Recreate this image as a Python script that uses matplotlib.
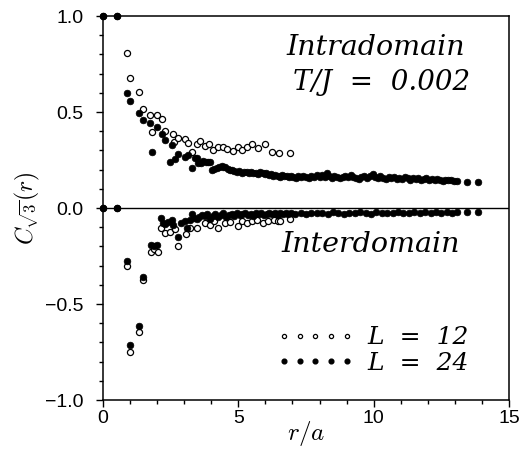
import matplotlib
matplotlib.use("Agg")
import matplotlib.pyplot as plt
from matplotlib.lines import Line2D

plt.rcParams['font.family'] = ['Liberation Sans', 'DejaVu Sans']
plt.rcParams['mathtext.fontset'] = 'cm'

# L = 12, intradomain correlations
r12_intra = [0.0, 0.52, 0.87, 1.01, 1.33, 1.49, 1.75, 1.81, 1.98, 2.18, 2.29, 2.60, 2.61,
             2.78, 3.03, 3.13, 3.27, 3.46, 3.58, 3.77, 3.92, 4.08, 4.26, 4.45, 4.57,
             4.82, 5.00, 5.12, 5.31, 5.52, 5.74, 6.00, 6.23, 6.51, 6.92]
c12_intra = [1.0, 1.0, 0.805, 0.679, 0.606, 0.514, 0.484, 0.396, 0.484, 0.462, 0.403, 0.385, 0.342,
             0.366, 0.361, 0.337, 0.292, 0.332, 0.350, 0.325, 0.333, 0.302, 0.316, 0.318, 0.309,
             0.297, 0.319, 0.302, 0.319, 0.332, 0.311, 0.332, 0.293, 0.288, 0.285]

# L = 12, interdomain correlations
r12_inter = [0.0, 0.52, 0.87, 1.00, 1.33, 1.49, 1.77, 1.90, 2.02, 2.16, 2.29, 2.48, 2.66,
             2.78, 3.05, 3.21, 3.49, 3.77, 3.95, 4.10, 4.26, 4.50, 4.70, 5.00, 5.15,
             5.31, 5.50, 5.70, 5.92, 6.10, 6.30, 6.48, 6.54, 6.90]
c12_inter = [0.0, 0.0, -0.302, -0.752, -0.647, -0.377, -0.229, -0.215, -0.229, -0.102, -0.128, -0.123, -0.111,
             -0.198, -0.137, -0.102, -0.102, -0.080, -0.090, -0.070, -0.105, -0.080, -0.072, -0.094, -0.065,
             -0.080, -0.070, -0.062, -0.077, -0.066, -0.060, -0.068, -0.065, -0.059]

# L = 24, intradomain correlations
r24_intra = [0.0, 0.52, 0.87, 1.01, 1.33, 1.49, 1.75, 1.80, 1.98, 2.18, 2.29, 2.48, 2.54, 2.66,
             2.78, 3.03, 3.15, 3.27, 3.40, 3.46, 3.52, 3.62, 3.71, 3.80, 3.88, 3.95,
             4.02, 4.10, 4.20, 4.30, 4.38, 4.45, 4.50, 4.60, 4.68, 4.75, 4.85, 4.94,
             5.03, 5.12, 5.20, 5.31, 5.40, 5.48, 5.55, 5.65, 5.72, 5.80, 5.90, 5.97,
             6.04, 6.12, 6.20, 6.29, 6.37, 6.45, 6.54, 6.62, 6.70, 6.78, 6.88, 6.95,
             7.03, 7.12, 7.20, 7.30, 7.40, 7.50, 7.60, 7.70, 7.80, 7.90, 8.00, 8.10,
             8.20, 8.26, 8.35, 8.45, 8.55, 8.65, 8.75, 8.85, 8.95, 9.05, 9.15, 9.25,
             9.35, 9.45, 9.55, 9.65, 9.75, 9.85, 9.98, 10.05, 10.15, 10.25, 10.35, 10.45,
             10.55, 10.65, 10.75, 10.85, 10.95, 11.05, 11.15, 11.25, 11.35, 11.45, 11.55,
             11.65, 11.75, 11.85, 11.95, 12.05, 12.15, 12.25, 12.35, 12.45, 12.55, 12.65,
             12.75, 12.85, 12.95, 13.06, 13.43, 13.86]
c24_intra = [1.0, 1.0, 0.600, 0.557, 0.495, 0.458, 0.444, 0.292, 0.423, 0.384, 0.354, 0.238, 0.328, 0.253,
             0.281, 0.267, 0.276, 0.210, 0.262, 0.259, 0.233, 0.236, 0.243, 0.240, 0.238, 0.241,
             0.198, 0.205, 0.207, 0.213, 0.220, 0.214, 0.215, 0.205, 0.200, 0.198, 0.192, 0.189,
             0.195, 0.184, 0.190, 0.189, 0.183, 0.186, 0.180, 0.185, 0.178, 0.189, 0.181, 0.175,
             0.180, 0.172, 0.176, 0.168, 0.172, 0.166, 0.163, 0.170, 0.165, 0.168, 0.161, 0.166,
             0.163, 0.158, 0.165, 0.160, 0.167, 0.162, 0.158, 0.166, 0.161, 0.170, 0.164, 0.172,
             0.160, 0.185, 0.165, 0.158, 0.168, 0.162, 0.157, 0.163, 0.166, 0.159, 0.170, 0.163,
             0.156, 0.150, 0.162, 0.165, 0.158, 0.168, 0.177, 0.160, 0.155, 0.165, 0.158, 0.150,
             0.160, 0.155, 0.162, 0.152, 0.158, 0.150, 0.160, 0.154, 0.148, 0.157, 0.150,
             0.155, 0.146, 0.152, 0.156, 0.148, 0.152, 0.145, 0.150, 0.147, 0.142, 0.148,
             0.144, 0.147, 0.143, 0.140, 0.138, 0.138]

# L = 24, interdomain correlations
r24_inter = [0.0, 0.52, 0.87, 1.00, 1.33, 1.49, 1.77, 1.88, 1.98, 2.16, 2.22, 2.29, 2.40, 2.54,
             2.60, 2.78, 2.90, 3.03, 3.09, 3.20, 3.27, 3.35, 3.46, 3.55, 3.65, 3.77,
             3.85, 3.95, 4.05, 4.15, 4.25, 4.35, 4.45, 4.55, 4.65, 4.75, 4.85, 4.95,
             5.05, 5.15, 5.25, 5.35, 5.45, 5.55, 5.65, 5.75, 5.85, 5.95, 6.05, 6.15,
             6.25, 6.35, 6.45, 6.55, 6.65, 6.75, 6.85, 6.95, 7.10, 7.30, 7.50, 7.70,
             7.90, 8.10, 8.30, 8.50, 8.70, 8.90, 9.10, 9.30, 9.50, 9.70, 9.90, 10.10,
             10.30, 10.50, 10.70, 10.90, 11.10, 11.30, 11.50, 11.70, 11.90, 12.10, 12.30,
             12.50, 12.70, 12.90, 13.06, 13.43, 13.86]
c24_inter = [0.0, 0.0, -0.276, -0.713, -0.615, -0.358, -0.190, -0.200, -0.190, -0.050, -0.080, -0.085, -0.075, -0.063,
             -0.090, -0.149, -0.080, -0.070, -0.106, -0.060, -0.033, -0.050, -0.059, -0.045, -0.038, -0.042,
             -0.030, -0.055, -0.040, -0.032, -0.048, -0.036, -0.028, -0.045, -0.035, -0.030, -0.040, -0.027,
             -0.038, -0.032, -0.025, -0.036, -0.030, -0.041, -0.028, -0.033, -0.026, -0.035, -0.030, -0.024,
             -0.032, -0.028, -0.035, -0.025, -0.030, -0.027, -0.033, -0.024, -0.030, -0.026, -0.032, -0.024,
             -0.028, -0.025, -0.031, -0.023, -0.027, -0.030, -0.024, -0.028, -0.022, -0.026, -0.029, -0.023,
             -0.027, -0.024, -0.028, -0.022, -0.025, -0.027, -0.023, -0.026, -0.021, -0.025, -0.023,
             -0.026, -0.022, -0.024, -0.022, -0.022, -0.022]

legend_labels = ['L  =  12', 'L  =  24']

serif_it = dict(family='DejaVu Serif', style='italic')

fig = plt.figure(figsize=(5.21, 4.49), dpi=100)
ax = fig.add_axes([0.1977, 0.1091, 0.7793, 0.8552])

ax.axhline(0.0, color='k', lw=1.0, zorder=1)

hollow = dict(ls='none', marker='o', ms=4.4, mfc='white', mec='k', mew=0.9, clip_on=False, zorder=3)
filled = dict(ls='none', marker='o', ms=4.8, mfc='k', mec='k', mew=0.5, clip_on=False, zorder=4)
ax.plot(r12_intra, c12_intra, **hollow)
ax.plot(r12_inter, c12_inter, **hollow)
ax.plot(r24_intra, c24_intra, **filled)
ax.plot(r24_inter, c24_inter, **filled)

ax.set_xlim(0, 15)
ax.set_ylim(-1.0, 1.0)
ax.set_xticks([0, 5, 10, 15])
ax.set_xticks(range(0, 16), minor=True)
ax.set_yticks([-1.0, -0.5, 0.0, 0.5, 1.0])
ax.set_yticks([i / 10 for i in range(-10, 11)], minor=True)
ax.yaxis.set_major_formatter(matplotlib.ticker.FuncFormatter(lambda v, p: f'{v:.1f}'.replace('-', '\u2212')))
ax.tick_params(which='both', direction='out', top=False, right=False, labelsize=14, width=1.0)
ax.tick_params(which='major', length=5)
ax.tick_params(which='minor', length=3)
ax.tick_params(axis='y', which='major', pad=9)
ax.tick_params(axis='x', which='major', pad=2)
for s in ax.spines.values():
    s.set_linewidth(1.1)

ax.set_xlabel(r'$r/a$', fontsize=18, va='center')
ax.xaxis.set_label_coords(0.5, -0.088)
ax.set_ylabel(r'$C_{\sqrt{3}}(r)$', fontsize=17, va='center')
ax.yaxis.set_label_coords(-0.185, 0.5)

ax.text(0.892, 0.919, 'Intradomain', transform=ax.transAxes, ha='right', va='center', fontsize=20.5, **serif_it)
ax.text(0.904, 0.828, 'T/J  =  0.002', transform=ax.transAxes, ha='right', va='center', fontsize=20, **serif_it)
ax.text(0.879, 0.404, 'Interdomain', transform=ax.transAxes, ha='right', va='center', fontsize=20.5, **serif_it)

handles = [Line2D([], [], ls='none', marker='o', ms=3.0, mfc='white', mec='k', mew=0.9),
           Line2D([], [], ls='none', marker='o', ms=3.4, mfc='k', mec='k')]
ax.legend(handles, legend_labels, loc='lower right', bbox_to_anchor=(0.945, 0.02),
          numpoints=5, handlelength=3.1, handletextpad=0.55, labelspacing=0.1,
          frameon=False, borderpad=0.2, prop=dict(size=18, **serif_it))

fig.savefig('out.png', dpi=100)
